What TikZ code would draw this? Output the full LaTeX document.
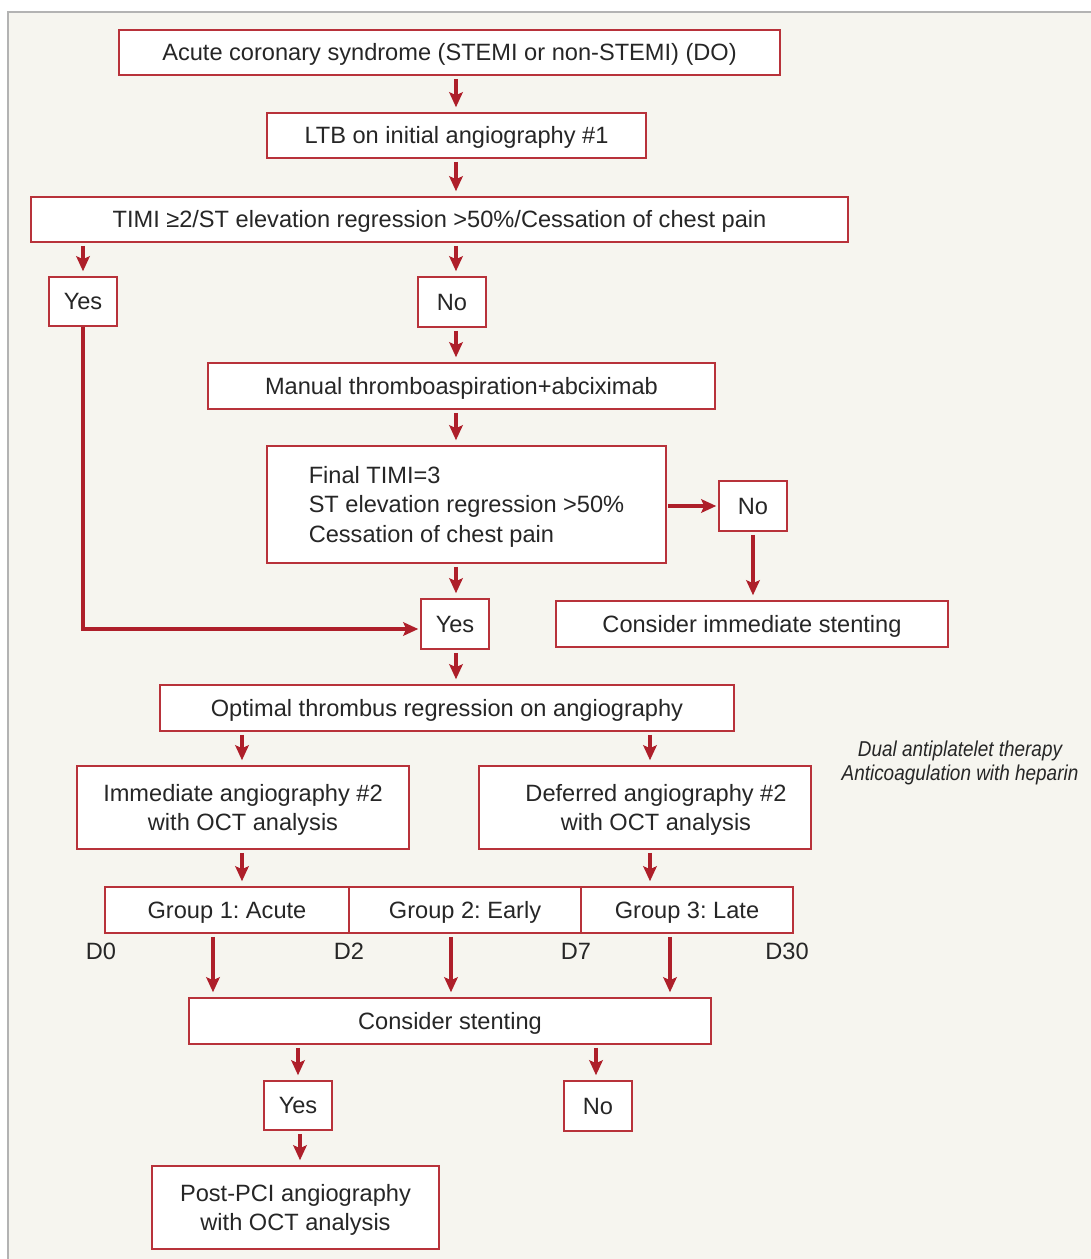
\documentclass[tikz,border=0pt]{standalone}
\usepackage{fontspec}
\setmainfont{Liberation Sans}
\newfontfamily\condit[FakeStretch=0.88]{Liberation Sans}
\usetikzlibrary{arrows.meta,calc}
\definecolor{framegray}{HTML}{B3B3B3}
\definecolor{bgc}{HTML}{F6F5EF}
\definecolor{boxred}{HTML}{B8323A}
\definecolor{arrred}{HTML}{AE1F2A}
\definecolor{txt}{HTML}{262626}
\newcommand{\ys}{\rule[-5.1pt]{0pt}{27.1pt}}
\begin{document}
\frenchspacing
\begin{tikzpicture}[x=1pt,y=-1pt,
  box/.style={draw=boxred, line width=1.5pt, fill=white, inner sep=0pt, text=txt,
    font=\fontsize{23.6}{29.5}\selectfont, align=center},
  arr/.style={draw=arrred, line width=3.1pt, -{Stealth[length=15pt,width=13.5pt,inset=3pt]},
    shorten <=3pt, shorten >=5pt},
  harr/.style={arr, shorten <=1pt, shorten >=2pt},
  lab/.style={text=txt, inner sep=0pt, font=\fontsize{23.6}{29.5}\selectfont}]
\useasboundingbox (0,0) rectangle (1091,1259);
\fill[white] (0,0) rectangle (1091,1259);
\fill[bgc] (8,12) rectangle (1091,1259);
\draw[framegray, line width=1.5pt] (1091,12) -- (8,12) -- (8,1259);

\coordinate (colA) at (456,0);

\node[box, minimum width=661, minimum height=45] (acs) at (449.5,52.5) {\ys Acute coronary syndrome (STEMI or non-STEMI) (DO)};
\node[box, minimum width=379, minimum height=45] (ltb) at (456.5,135.5) {\ys LTB on initial angiography \#1};
\node[box, minimum width=817, minimum height=45] (timi) at (439.5,219.5) {\ys TIMI ≥2/ST elevation regression >50\%/Cessation of chest pain};
\node[box, minimum width=68, minimum height=49] (yes1) at (83,301.5) {\ys Yes};
\node[box, minimum width=68, minimum height=50] (no1) at (452,302) {\ys No};
\node[box, minimum width=507, minimum height=46] (man) at (461.5,386) {\ys Manual thromboaspiration+abciximab};
\node[box, minimum width=399, minimum height=117, align=left] (fin) at (466.5,504.5) {\ys Final TIMI=3\\ST elevation regression >50\%\\Cessation of chest pain\ys};
\node[box, minimum width=68, minimum height=50] (no2) at (753,506) {\ys No};
\node[box, minimum width=392, minimum height=46] (cis) at (752,624) {\ys Consider immediate stenting};
\node[box, minimum width=68, minimum height=50] (yes2) at (455,624) {\ys Yes};
\node[box, minimum width=574, minimum height=46] (opt) at (447,708) {\ys Optimal thrombus regression on angiography};
\node[box, minimum width=332, minimum height=83] (imm) at (243,807.5) {\ys Immediate angiography \#2\\with OCT analysis\ys};
\node[box, minimum width=332, minimum height=83] (def) at (645,807.5) {\ys\hspace*{22pt}Deferred angiography \#2\\\hspace*{22pt}with OCT analysis\ys};
\node[text=txt, inner sep=0pt, align=center, font=\fontsize{21.5}{24}\selectfont\condit\itshape] (dap) at (960,763) {Dual antiplatelet therapy\\Anticoagulation with heparin};

\node[box, minimum width=244, minimum height=46] (g1) at (227,910) {\ys Group 1: Acute};
\node[box, minimum width=232, minimum height=46] (g2) at (465,910) {\ys Group 2: Early};
\node[box, minimum width=212, minimum height=46] (g3) at (687,910) {\ys Group 3: Late};
\node[lab] (d0) at (101,951) {D0};
\node[lab] (d2) at (349,951) {D2};
\node[lab] (d7) at (576,951) {D7};
\node[lab] (d30) at (787,951) {D30};

\node[box, minimum width=522, minimum height=46] (st) at (450,1021) {\ys Consider stenting};
\node[box, minimum width=68, minimum height=49] (yes3) at (298,1105.5) {\ys Yes};
\node[box, minimum width=68, minimum height=50] (no3) at (598,1106) {\ys No};
\node[box, minimum width=287, minimum height=83] (pci) at (295.5,1207.5) {\ys Post-PCI angiography\\with OCT analysis\ys};

% connectors
\draw[arr] (colA |- acs.south) -- (colA |- ltb.north);
\draw[arr] (colA |- ltb.south) -- (colA |- timi.north);
\draw[arr] (yes1.north |- timi.south) -- (yes1.north);
\draw[arr] (colA |- timi.south) -- (colA |- no1.north);
\draw[arr] (colA |- no1.south) -- (colA |- man.north);
\draw[arr] (colA |- man.south) -- (colA |- fin.north);
\draw[harr] (fin.east |- no2.west) -- (no2.west);
\draw[arr] (no2.south) -- (no2.south |- cis.north);
\draw[arr] (colA |- fin.south) -- (colA |- yes2.north);
\draw[harr, shorten <=0pt] (yes1.south) |- ([yshift=-5pt]yes2.west);
\draw[arr] (colA |- yes2.south) -- (colA |- opt.north);
\draw[arr] ([xshift=-1pt]imm.north |- opt.south) -- ([xshift=-1pt]imm.north);
\draw[arr] ([xshift=5pt]def.north |- opt.south) -- ([xshift=5pt]def.north);
\draw[arr] ([xshift=-1pt]imm.south) -- ([xshift=-1pt]imm.south |- g1.north);
\draw[arr] ([xshift=5pt]def.south) -- ([xshift=5pt]def.south |- g3.north);
\draw[arr] ([xshift=-14pt]g1.south) -- ([xshift=-14pt]g1.south |- st.north);
\draw[arr] ([xshift=-14pt]g2.south) -- ([xshift=-14pt]g2.south |- st.north);
\draw[arr] ([xshift=-17pt]g3.south) -- ([xshift=-17pt]g3.south |- st.north);
\draw[arr] (yes3.north |- st.south) -- (yes3.north);
\draw[arr] ([xshift=-2pt]no3.north |- st.south) -- ([xshift=-2pt]no3.north);
\draw[arr] ([xshift=2pt]yes3.south) -- ([xshift=2pt]yes3.south |- pci.north);
\end{tikzpicture}
\end{document}
